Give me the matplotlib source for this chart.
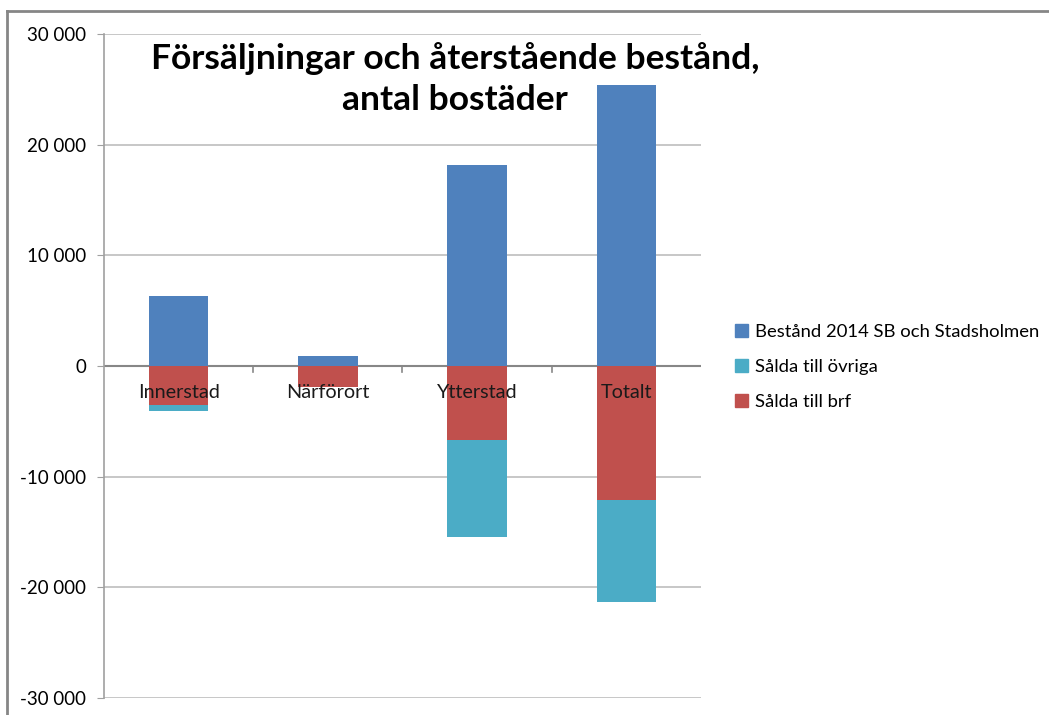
import matplotlib
matplotlib.use('Agg')
import matplotlib.pyplot as plt
from matplotlib.ticker import FuncFormatter, MultipleLocator
from matplotlib.lines import Line2D

categories = ['Innerstad', 'Närförort', 'Ytterstad', 'Totalt']
bestand = [6300, 930, 18160, 25390]        # Bestånd 2014 SB och Stadsholmen
salda_brf = [3520, 1900, 6680, 12100]      # Sålda till brf (shown negative)
salda_ovriga = [540, 0, 8730, 9210]        # Sålda till övriga (shown below brf)

series_names = ['Bestånd 2014 SB och Stadsholmen', 'Sålda till övriga', 'Sålda till brf']
colors = ['#4F81BD', '#4BACC6', '#C0504D']

plt.rcParams['font.family'] = ['Lato', 'DejaVu Sans']

W, H = 1049, 715
fig = plt.figure(figsize=(W / 100, H / 100), dpi=100)
ax = fig.add_axes([104 / W, 1 - 698 / H, (701 - 104) / W, (698 - 34) / H])

x = range(len(categories))
neg_brf = [-v for v in salda_brf]
neg_ovr = [-v for v in salda_ovriga]

ax.bar(x, bestand, width=0.4, color=colors[0], zorder=3, label=series_names[0])
ax.bar(x, neg_ovr, bottom=neg_brf, width=0.4, color=colors[1], zorder=3, label=series_names[1])
ax.bar(x, neg_brf, width=0.4, color=colors[2], zorder=3, label=series_names[2])

ax.set_xlim(-0.5, len(categories) - 0.5)
ax.set_ylim(-30000, 30000)
ax.yaxis.set_major_locator(MultipleLocator(10000))
ax.yaxis.set_major_formatter(FuncFormatter(lambda v, p: f'{int(v):,}'.replace(',', ' ')))
ax.grid(axis='y', color='#BEBEBE', linewidth=1.2, zorder=0)
ax.axhline(0, color='#878787', linewidth=1.5, zorder=2)

for s in ['top', 'right', 'bottom']:
    ax.spines[s].set_visible(False)
ax.spines['left'].set_color('#A0A0A0')
ax.spines['left'].set_linewidth(1.2)
ax.tick_params(axis='y', length=5, color='#A0A0A0', labelsize=13.5, pad=8)
ax.set_xticks([])

# category tick marks on the zero line
for b in [0.5, 1.5, 2.5]:
    ax.plot([b, b], [0, -500], color='#878787', linewidth=1.2, zorder=2)

# category labels sitting just below the zero line
for i, c in enumerate(categories):
    ax.annotate(c, (i, 0), xytext=(0, -27), textcoords='offset pixels',
                ha='center', va='center', fontsize=14.3, color='#1A1A1A', zorder=5)

fig.text(455 / W, 1 - 79 / H, 'Försäljningar och återstående bestånd,\nantal bostäder',
         ha='center', va='center', fontsize=25.5, fontweight='bold', linespacing=1.32)

handles = [plt.Rectangle((0, 0), 1, 1, color=c) for c in colors]
fig.legend(handles, series_names, loc='center left', bbox_to_anchor=(718 / W, 1 - 367 / H),
           frameon=False, fontsize=13.3, handlelength=0.7, handleheight=0.7,
           handletextpad=0.4, labelspacing=1.05)

# outer chart frame
fig.add_artist(Line2D([7 / W, 7 / W], [0, 1 - 11 / H], color='#868686', linewidth=2,
                      transform=fig.transFigure))
fig.add_artist(Line2D([7 / W, 1], [1 - 11 / H, 1 - 11 / H], color='#868686', linewidth=2,
                      transform=fig.transFigure))

fig.savefig('out.png', dpi=100)
